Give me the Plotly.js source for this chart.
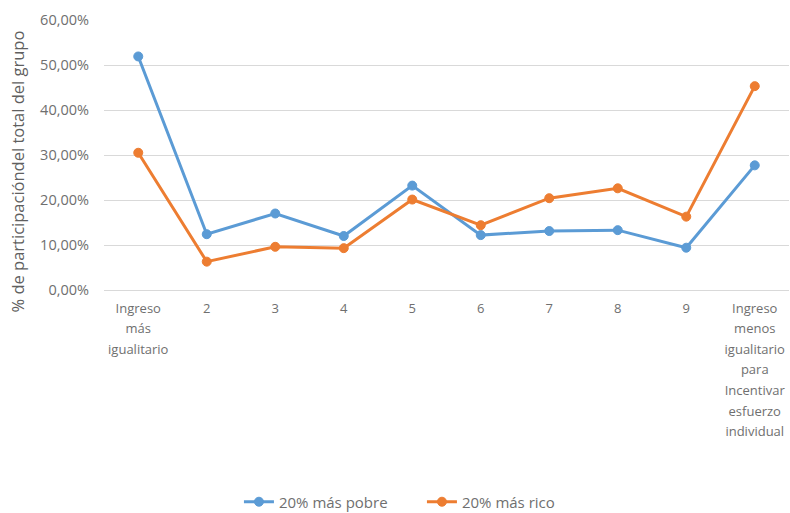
<!DOCTYPE html>
<html>
<head>
<meta charset="utf-8">
<script src="https://cdn.plot.ly/plotly-3.0.1.min.js"></script>
<style>
  html, body { margin: 0; padding: 0; background: #ffffff; }
  #chart { width: 790px; height: 513px; }
</style>
</head>
<body>
<div id="chart"></div>
<script>
// Categories along the x axis (scale from most egalitarian to least egalitarian)
const categories = [
  "Ingreso<br>más<br>igualitario",
  "2", "3", "4", "5", "6", "7", "8", "9",
  "Ingreso<br>menos<br>igualitario<br>para<br>Incentivar<br>esfuerzo<br>individual"
];

// Share of each group (%) at each point of the scale
const seriesNames = ["20% más pobre", "20% más rico"];
const pobre = [51.9, 12.4, 17.0, 12.0, 23.2, 12.2, 13.1, 13.3, 9.4, 27.7];
const rico  = [30.5, 6.3, 9.6, 9.3, 20.1, 14.4, 20.4, 22.6, 16.3, 45.3];

// Y axis ticks (percent)
const yTicks = [0, 10, 20, 30, 40, 50, 60];

const yTitle = "% de participacióndel total del grupo";

const FONT = "'Open Sans', 'Noto Sans', sans-serif";
const TEXT_GREY = "#6f6f6f";
const BLUE = "#5b9bd5";
const ORANGE = "#ed7d31";

const xIdx = categories.map((_, i) => i);

// Tick labels: small glyphs on a taller line pitch
const tickText = categories.map(c =>
  c.split("<br>").map(l => '<span style="font-size:13px">' + l + '</span>').join("<br>")
);

// "60,00%" style labels
const yTickText = yTicks.map(v => v.toFixed(2).replace(".", ",") + "%");

function lineTrace(name, values, color) {
  return {
    type: "scatter",
    mode: "lines+markers",
    name: name,
    x: xIdx,
    y: values,
    line: { color: color, width: 3 },
    marker: { color: color, size: 9, line: { color: color, width: 1 } },
    hoverinfo: "x+y"
  };
}

const data = [
  lineTrace(seriesNames[0], pobre, BLUE),
  lineTrace(seriesNames[1], rico, ORANGE)
];

const layout = {
  width: 790,
  height: 513,
  margin: { l: 104, r: 1, t: 20, b: 223, autoexpand: false },
  paper_bgcolor: "#ffffff",
  plot_bgcolor: "#ffffff",
  separators: ",.",
  font: { family: FONT, color: TEXT_GREY, size: 14 },
  showlegend: true,
  xaxis: {
    range: [-0.5, 9.5],
    tickmode: "array",
    tickvals: xIdx,
    ticktext: tickText,
    tickangle: 0,
    tickfont: { family: FONT, size: 15.8, color: TEXT_GREY },
    showgrid: false,
    zeroline: false,
    showline: false,
    ticks: "",
    ticklabelstandoff: 6,
    fixedrange: true
  },
  yaxis: {
    range: [0, 60],
    tickmode: "array",
    tickvals: yTicks,
    ticktext: yTickText,
    tickfont: { family: FONT, size: 14.5, color: TEXT_GREY },
    showgrid: true,
    gridcolor: "#d9d9d9",
    gridwidth: 1,
    zeroline: true,
    zerolinecolor: "#d9d9d9",
    zerolinewidth: 1,
    showline: false,
    ticks: "",
    ticklabelstandoff: 14,
    fixedrange: true
  },
  legend: {
    orientation: "h",
    x: 0.197,
    xanchor: "left",
    y: -0.724,
    yanchor: "top",
    entrywidth: 138,
    entrywidthmode: "pixels",
    font: { family: FONT, size: 15, color: TEXT_GREY },
    bgcolor: "rgba(0,0,0,0)"
  },
  annotations: [{
    text: yTitle,
    xref: "paper",
    yref: "paper",
    x: -0.127,
    y: 0.439,
    xanchor: "center",
    yanchor: "middle",
    textangle: -90,
    showarrow: false,
    font: { family: FONT, size: 16.5, color: "#5f5f5f" }
  }]
};

Plotly.newPlot("chart", data, layout, { displayModeBar: false, staticPlot: true });
</script>
</body>
</html>
